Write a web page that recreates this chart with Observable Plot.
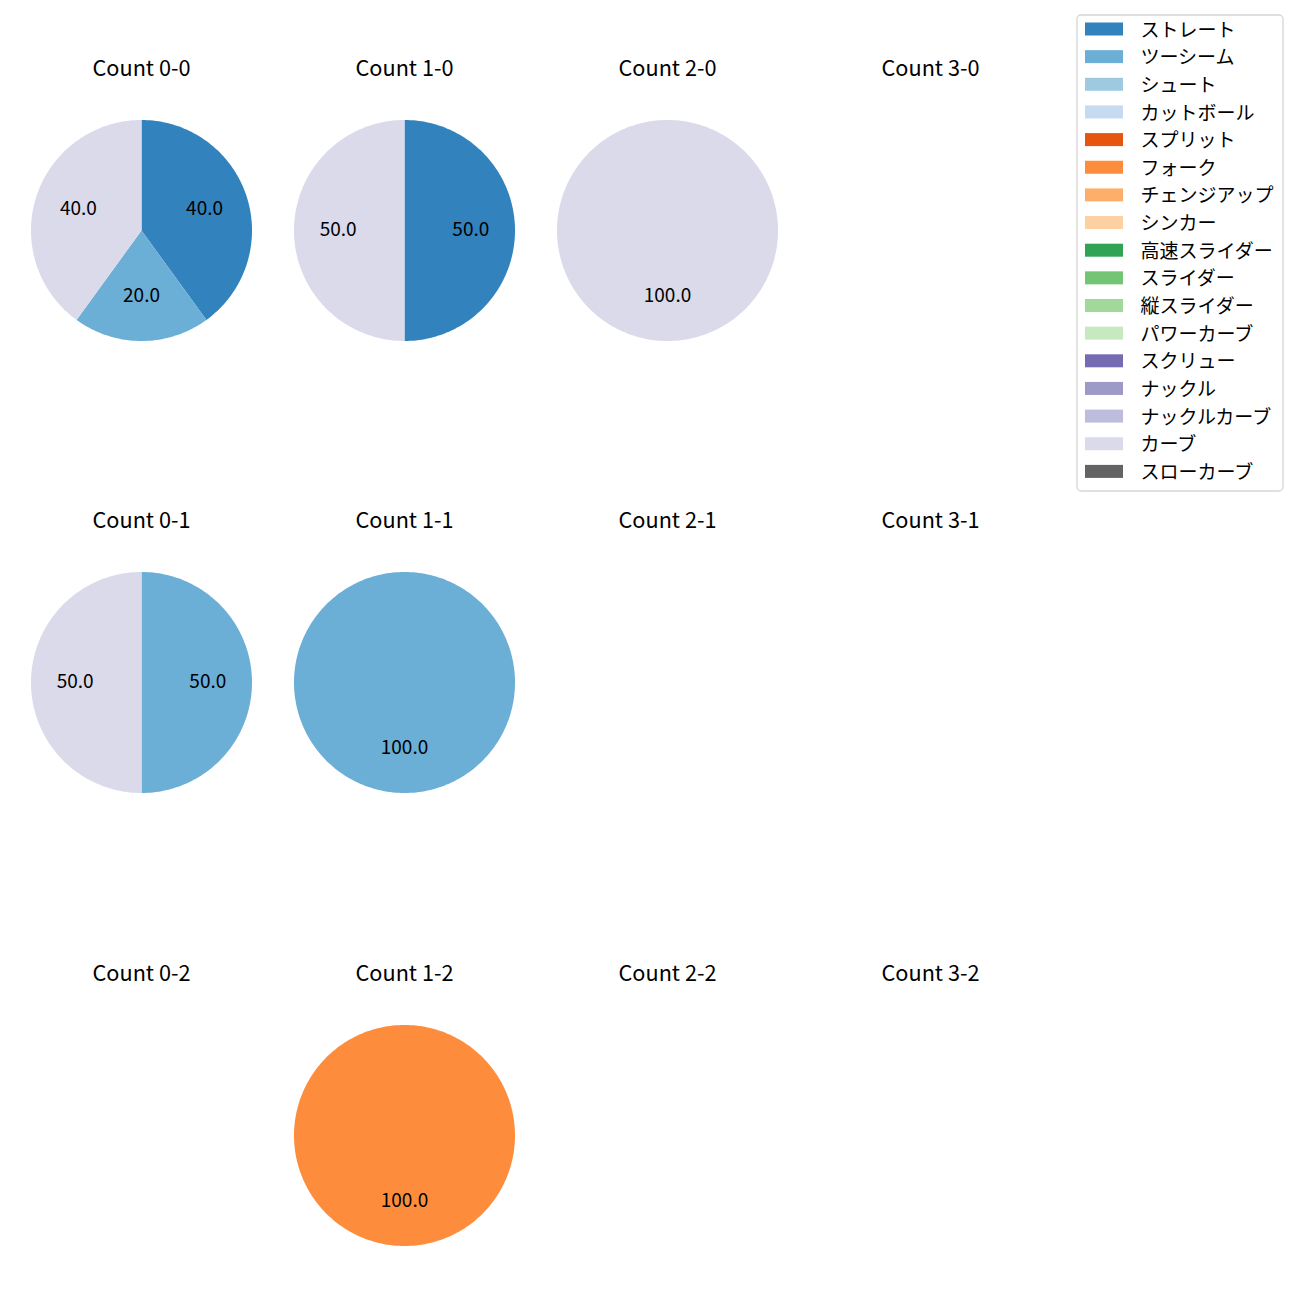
<!DOCTYPE html>
<html>
<head>
<meta charset="utf-8">
<script src="https://cdn.jsdelivr.net/npm/d3@7"></script>
<script src="https://cdn.jsdelivr.net/npm/@observablehq/plot@0.6"></script>
<style>
  html, body { margin: 0; padding: 0; background: white; }
</style>
</head>
<body>
<div id="chart"></div>
<script>
// ---- data ----
const pitchTypes = ["ストレート","ツーシーム","シュート","カットボール","スプリット","フォーク","チェンジアップ","シンカー","高速スライダー","スライダー","縦スライダー","パワーカーブ","スクリュー","ナックル","ナックルカーブ","カーブ","スローカーブ"];
const pitchColors = ["#3182bd","#6baed6","#9ecae1","#c6dbef","#e6550d","#fd8d3c","#fdae6b","#fdd0a2","#31a354","#74c476","#a1d99b","#c7e9c0","#756bb1","#9e9ac8","#bcbddc","#dadaeb","#636363"];
const countLabels = ["0-0","1-0","2-0","3-0","0-1","1-1","2-1","3-1","0-2","1-2","2-2","3-2"];
const slicePanel = ["0-0","0-0","0-0","1-0","1-0","2-0","0-1","0-1","1-1","1-2"];
const sliceType  = ["ストレート","ツーシーム","カーブ","ストレート","カーブ","カーブ","ツーシーム","カーブ","ツーシーム","フォーク"];
const sliceValue = [40,20,40,50,50,100,50,50,100,100];

// ---- layout ----
const W = 1300, H = 1300;
const colX = [141, 404, 667, 930];
const rowY = [230, 682, 1135];
const R = 110.5;
const titleOffset = 161;

const wedgePts = [];
const pctLabels = [];
const titles = [];
countLabels.forEach((c, i) => {
  const cx = colX[i % 4], cy = rowY[Math.floor(i / 4)];
  titles.push({x: cx, y: cy - titleOffset, text: "Count " + c});
  const idx = slicePanel.map((p, j) => p === c ? j : -1).filter(j => j >= 0);
  const total = d3.sum(idx, j => sliceValue[j]);
  let acc = 0;
  idx.forEach(j => {
    const v = sliceValue[j];
    const a0 = acc / total * 2 * Math.PI;
    const a1 = (acc + v) / total * 2 * Math.PI;
    const id = c + "-" + j;
    if (v < total) wedgePts.push({x: cx, y: cy, id, type: sliceType[j]});
    const n = Math.max(8, Math.ceil((a1 - a0) / (2 * Math.PI) * 240));
    for (let k = 0; k <= n; k++) {
      const t = a0 + (a1 - a0) * k / n;
      wedgePts.push({x: cx + R * Math.sin(t), y: cy - R * Math.cos(t), id, type: sliceType[j]});
    }
    const m = (a0 + a1) / 2;
    pctLabels.push({x: cx + 0.6 * R * Math.sin(m), y: cy - 0.6 * R * Math.cos(m), text: (v / total * 100).toFixed(1)});
    acc += v;
  });
});

// legend layout
const lgX1 = 1077, lgX2 = 1283, lgY1 = 15, lgY2 = 491;
const lgRow0 = 29, lgStep = 27.65;
const legendRows = pitchTypes.map((t, i) => ({type: t, y: lgRow0 + i * lgStep}));

const font = "'Noto Sans CJK JP', 'Noto Sans', sans-serif";

const chart = Plot.plot({
  width: W, height: H,
  margin: 0,
  x: {domain: [0, W], range: [0, W], axis: null},
  y: {domain: [0, H], range: [0, H], axis: null},
  color: {domain: pitchTypes, range: pitchColors},
  style: {fontFamily: font, background: "white"},
  marks: [
    Plot.line(wedgePts, {x: "x", y: "y", z: "id", fill: "type", stroke: null, curve: "linear"}),
    Plot.text(pctLabels, {x: "x", y: "y", text: "text", fontSize: 19, fill: "black", textAnchor: "middle", dy: -1}),
    Plot.text(titles, {x: "x", y: "y", text: "text", fontSize: 21.7, fill: "black", textAnchor: "middle"}),
    Plot.rect([{x1: lgX1, x2: lgX2, y1: lgY1, y2: lgY2}], {x1: "x1", x2: "x2", y1: "y1", y2: "y2", fill: "white", fillOpacity: 0.8, stroke: "#d6d6d6", strokeWidth: 1.3, rx: 4}),
    Plot.rect(legendRows, {x1: 1085, x2: 1123, y1: d => d.y - 6.5, y2: d => d.y + 6.5, fill: "type"}),
    Plot.text(legendRows, {x: 1140, y: "y", text: "type", fontSize: 19, fill: "black", textAnchor: "start", dy: 1})
  ]
});
document.getElementById("chart").appendChild(chart);
</script>
</body>
</html>
